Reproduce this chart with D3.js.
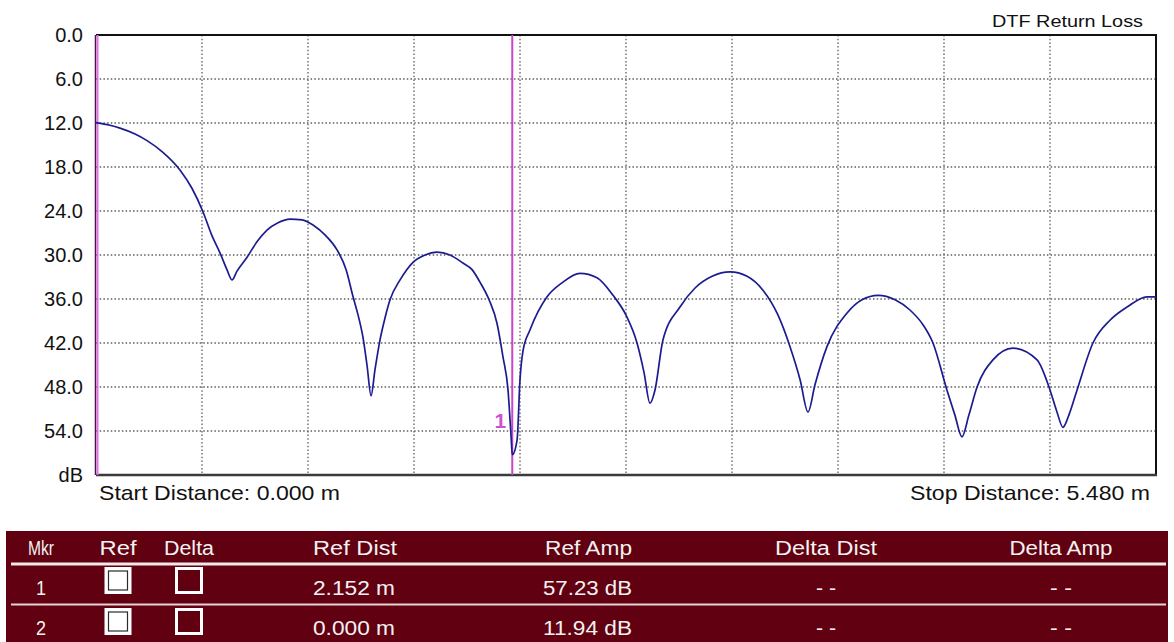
<!DOCTYPE html>
<html>
<head>
<meta charset="utf-8">
<script src="https://cdn.jsdelivr.net/npm/d3@7"></script>
<style>
  html, body { margin: 0; padding: 0; background: #ffffff; }
  svg { display: block; font-family: "Liberation Sans", Arial, sans-serif; }
</style>
</head>
<body>
<svg id="chart" width="1174" height="642"></svg>
<script>
// ---------- data ----------
const distances = [
  0.000, 0.072, 0.124, 0.202, 0.264, 0.346, 0.434, 0.496, 0.553, 0.600,
  0.641, 0.677, 0.703, 0.729, 0.781, 0.832, 0.884, 0.941, 1.003, 1.065,
  1.122, 1.189, 1.246, 1.293, 1.329, 1.355, 1.380, 1.401, 1.422, 1.442,
  1.468, 1.494, 1.520, 1.572, 1.639, 1.701, 1.763, 1.830, 1.897, 1.944,
  1.985, 2.032, 2.073, 2.104, 2.130, 2.146, 2.152, 2.177, 2.192, 2.208,
  2.244, 2.332, 2.409, 2.502, 2.590, 2.673, 2.740, 2.797, 2.833, 2.864,
  2.890, 2.931, 3.019, 3.097, 3.185, 3.278, 3.366, 3.448, 3.526, 3.588,
  3.640, 3.681, 3.717, 3.779, 3.883, 3.960, 4.043, 4.131, 4.208, 4.275,
  4.327, 4.399, 4.440, 4.477, 4.513, 4.555, 4.637, 4.741, 4.865, 4.932,
  4.968, 4.999, 5.030, 5.072, 5.154, 5.242, 5.330, 5.433, 5.480
];
const returnLoss = [
  11.94, 12.3, 12.7, 13.5, 14.4, 16.0, 18.4, 20.9, 24.1, 27.4,
  29.7, 32.0, 33.4, 32.2, 30.3, 28.2, 26.6, 25.6, 25.1, 25.2,
  25.9, 27.4, 29.3, 32.0, 35.7, 38.2, 41.2, 45.0, 49.2, 45.7,
  41.6, 38.6, 36.1, 33.4, 31.0, 30.0, 29.6, 30.0, 31.1, 32.0,
  33.7, 36.1, 39.3, 43.9, 48.4, 54.8, 57.23, 55.2, 47.0, 43.0,
  40.2, 35.7, 33.8, 32.5, 33.1, 35.5, 38.2, 42.0, 46.0, 50.2,
  48.4, 41.6, 37.1, 34.5, 32.9, 32.3, 32.9, 34.8, 38.2, 42.5,
  47.0, 51.4, 47.7, 42.5, 37.9, 36.1, 35.5, 36.1, 37.5, 39.5,
  42.0, 48.4, 51.8, 54.8, 51.8, 48.0, 44.3, 42.7, 44.3, 48.4,
  51.4, 53.5, 51.8, 48.4, 42.0, 38.9, 37.1, 35.7, 35.7
];

const yTickValues = [0, 6, 12, 18, 24, 30, 36, 42, 48, 54, 60];
const yTickLabels = ["0.0", "6.0", "12.0", "18.0", "24.0", "30.0", "36.0", "42.0", "48.0", "54.0", "dB"];
const xDomain = [0, 5.48];
const xDivisions = 10;

const chartTitle = "DTF Return Loss";
const startLabel = "Start Distance: 0.000 m";
const stopLabel = "Stop Distance: 5.480 m";

const markerIds = ["1", "2"];
const markerDist = [2.152, 0.000];
const markerAmp = [57.23, 11.94];

const tableHeaders = ["Mkr", "Ref", "Delta", "Ref Dist", "Ref Amp", "Delta Dist", "Delta Amp"];
const refDistText = ["2.152 m", "0.000 m"];
const refAmpText = ["57.23 dB", "11.94 dB"];
const deltaDistText = ["- -", "- -"];
const deltaAmpText = ["- -", "- -"];

// ---------- layout ----------
const svg = d3.select("#chart");
const plot = { left: 96, right: 1156, top: 35, bottom: 475 };

const x = d3.scaleLinear().domain(xDomain).range([plot.left, plot.right]);
const y = d3.scaleLinear().domain([0, 60]).range([plot.top, plot.bottom]);

// grid
const gridColor = "#5e5e5e";
const xGrid = d3.range(1, xDivisions).map(i => xDomain[0] + i * (xDomain[1] - xDomain[0]) / xDivisions);
svg.append("g").selectAll("line").data(xGrid).join("line")
  .attr("x1", d => x(d)).attr("x2", d => x(d))
  .attr("y1", plot.top).attr("y2", plot.bottom)
  .attr("stroke", gridColor).attr("stroke-width", 1.3).attr("stroke-dasharray", "1.5,2.2");
svg.append("g").selectAll("line").data(yTickValues.slice(1, -1)).join("line")
  .attr("x1", plot.left).attr("x2", plot.right)
  .attr("y1", d => y(d)).attr("y2", d => y(d))
  .attr("stroke", gridColor).attr("stroke-width", 1.3).attr("stroke-dasharray", "1.5,2.2");

// frame
svg.append("line").attr("x1", plot.left).attr("x2", plot.right + 1).attr("y1", plot.top).attr("y2", plot.top)
  .attr("stroke", "#111").attr("stroke-width", 2);
svg.append("line").attr("x1", plot.right).attr("x2", plot.right).attr("y1", plot.top).attr("y2", plot.bottom)
  .attr("stroke", "#111").attr("stroke-width", 2);
svg.append("line").attr("x1", plot.left).attr("x2", plot.right + 1).attr("y1", plot.bottom).attr("y2", plot.bottom)
  .attr("stroke", "#3a3a3a").attr("stroke-width", 2.5);
svg.append("line").attr("x1", plot.left - 0.5).attr("x2", plot.left - 0.5).attr("y1", plot.top).attr("y2", plot.bottom)
  .attr("stroke", "#4a1050").attr("stroke-width", 1.5);

// y axis
const yAxis = d3.axisLeft(y).tickValues(yTickValues)
  .tickFormat((d, i) => yTickLabels[i]).tickSize(0).tickPadding(13);
const yg = svg.append("g").attr("transform", `translate(${plot.left},0)`).call(yAxis);
yg.select(".domain").remove();
yg.selectAll("text").attr("font-size", 20).attr("fill", "#111")
  .attr("font-family", "'Liberation Sans', Arial, sans-serif");

// marker lines
const markerColor = "#c846c8";
svg.append("g").selectAll("line").data(markerDist).join("line")
  .attr("x1", d => x(d) + (d === 0 ? 1.5 : 0)).attr("x2", d => x(d) + (d === 0 ? 1.5 : 0))
  .attr("y1", plot.top).attr("y2", plot.bottom)
  .attr("stroke", (d) => d === 0 ? "#e070e0" : markerColor).attr("stroke-width", 2);

// trace
const line = d3.line()
  .x((d, i) => x(distances[i]))
  .y(d => y(d))
  .curve(d3.curveMonotoneX);
svg.append("path").datum(returnLoss)
  .attr("d", line)
  .attr("fill", "none").attr("stroke", "#1c1c90").attr("stroke-width", 1.7);

// marker label
svg.append("text").attr("x", x(markerDist[0]) - 6).attr("y", y(markerAmp[0]) - 27)
  .attr("text-anchor", "end").attr("font-size", 21).attr("font-weight", "bold")
  .attr("fill", "#d050d0").text(markerIds[0]);

// texts
svg.append("text").attr("x", 1143).attr("y", 27).attr("text-anchor", "end")
  .attr("font-size", 17).attr("fill", "#111")
  .attr("textLength", 151).attr("lengthAdjust", "spacingAndGlyphs").text(chartTitle);
svg.append("text").attr("x", 99).attr("y", 500).attr("font-size", 21).attr("fill", "#111")
  .attr("textLength", 241).attr("lengthAdjust", "spacingAndGlyphs").text(startLabel);
svg.append("text").attr("x", 1150).attr("y", 500).attr("text-anchor", "end").attr("font-size", 21).attr("fill", "#111")
  .attr("textLength", 240).attr("lengthAdjust", "spacingAndGlyphs").text(stopLabel);

// ---------- marker table ----------
const tbl = { left: 6, right: 1168, top: 531, bottom: 642 };
const tableBg = "#610010";
const tg = svg.append("g");
tg.append("rect").attr("x", tbl.left).attr("y", tbl.top)
  .attr("width", tbl.right - tbl.left).attr("height", tbl.bottom - tbl.top).attr("fill", tableBg);

// separators
tg.append("line").attr("x1", 11).attr("x2", 1166).attr("y1", 564).attr("y2", 564)
  .attr("stroke", "#f4e8ea").attr("stroke-width", 3);
tg.append("line").attr("x1", 11).attr("x2", 1166).attr("y1", 604.5).attr("y2", 604.5)
  .attr("stroke", "#e8d4d8").attr("stroke-width", 2);

// column geometry
const colX = [41, 118, 189, 313, 632, 826, 1061];
const colAnchor = ["middle", "middle", "middle", "start", "end", "middle", "middle"];
const headerW = [26, 37, 50, 84, 87, 102, 103];
const textColor = "#f2f2f2";

tg.selectAll("text.hdr").data(tableHeaders).join("text").attr("class", "hdr")
  .attr("x", (d, i) => colX[i]).attr("y", 555)
  .attr("text-anchor", (d, i) => colAnchor[i])
  .attr("font-size", 20).attr("fill", textColor)
  .attr("textLength", (d, i) => headerW[i]).attr("lengthAdjust", "spacingAndGlyphs")
  .text(d => d);

const rowBase = [595, 635];
const rowTop = [567, 608];
markerIds.forEach((id, r) => {
  const rowVals = [id, null, null, refDistText[r], refAmpText[r], deltaDistText[r], deltaAmpText[r]];
  const widths = [10, 0, 0, 82, 89, 20, 22];
  rowVals.forEach((v, i) => {
    if (v === null) return;
    tg.append("text").attr("x", colX[i]).attr("y", rowBase[r])
      .attr("text-anchor", colAnchor[i]).attr("font-size", 20).attr("fill", textColor)
      .attr("textLength", widths[i]).attr("lengthAdjust", "spacingAndGlyphs").text(v);
  });
  // Ref checkbox (white with dark inner border)
  tg.append("rect").attr("x", colX[1] - 12).attr("y", rowTop[r] + 1.5).attr("width", 24).attr("height", 24)
    .attr("fill", "#ffffff").attr("stroke", "#ffffff").attr("stroke-width", 3);
  tg.append("rect").attr("x", colX[1] - 9.5).attr("y", rowTop[r] + 4).attr("width", 19).attr("height", 19)
    .attr("fill", "#ffffff").attr("stroke", "#2a2a2a").attr("stroke-width", 1.2);
  // Delta checkbox (white frame, empty)
  tg.append("rect").attr("x", colX[2] - 12.5).attr("y", rowTop[r] + 1.5).attr("width", 25).attr("height", 24)
    .attr("fill", tableBg).attr("stroke", "#ffffff").attr("stroke-width", 3);
});
</script>
</body>
</html>
